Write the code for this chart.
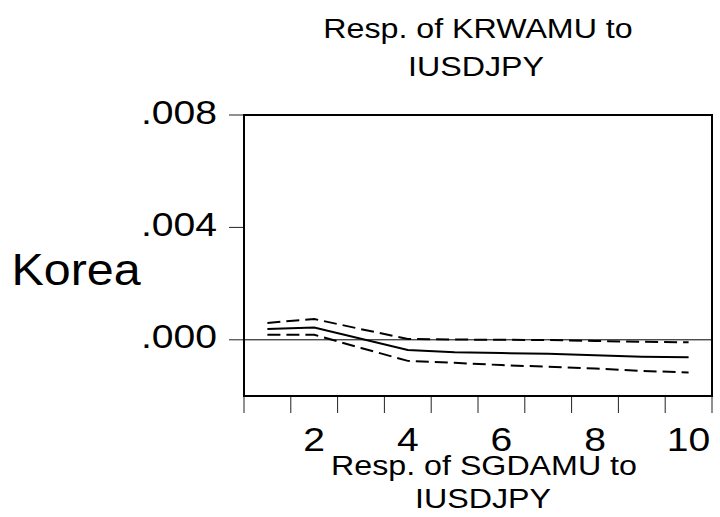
<!DOCTYPE html>
<html>
<head>
<meta charset="utf-8">
<script src="https://cdn.jsdelivr.net/npm/d3@7"></script>
<style>
  body { margin: 0; background: #fff; }
  text { font-family: "Liberation Sans", Arial, sans-serif; fill: #000; }
</style>
</head>
<body>
<script>
// impulse response, periods 1..10
const periods = [1, 2, 3, 4, 5, 6, 7, 8, 9, 10];
const response = [0.00038, 0.00044, 0.00004, -0.00036, -0.00044, -0.00047, -0.0005, -0.00055, -0.0006, -0.00062];
const upperBand = [0.0006, 0.00074, 0.00038, 0.00003, 0.00001, 0.0, -0.00001, -0.00004, -0.00007, -0.00009];
const lowerBand = [0.00018, 0.00018, -0.00029, -0.00075, -0.00082, -0.0009, -0.00096, -0.00102, -0.00111, -0.00116];

const yTicks = [0, 0.004, 0.008];
const xTickLabels = [2, 4, 6, 8, 10];
const topTitle = ["Resp. of KRWAMU to", "IUSDJPY"];
const bottomTitle = ["Resp. of SGDAMU to", "IUSDJPY"];
const rowLabel = "Korea";

const width = 720;
const height = 517;
const margin = { left: 244, right: 8, top: 115, bottom: 121 };
const sx = 1.15; // text in the original is slightly stretched horizontally

const svg = d3
  .select("body")
  .append("svg")
  .attr("width", width)
  .attr("height", height);

const xScale = d3
  .scaleBand()
  .domain(periods)
  .range([margin.left, width - margin.right]);

const yScale = d3
  .scaleLinear()
  .domain([-0.002, 0.008])
  .range([height - margin.bottom, margin.top]);

const cx = (p) => xScale(p) + xScale.bandwidth() / 2;

const addText = (str, x, y, size, anchor, stretch) => {
  svg
    .append("text")
    .text(str)
    .attr("transform", `translate(${x},${y}) scale(${stretch},1)`)
    .attr("font-size", size)
    .attr("text-anchor", anchor);
};

// titles (the bottom title overlaps the x labels in the original too)
addText(topTitle[0], 478, 37.5, 28, "middle", sx);
addText(topTitle[1], 476, 76, 28, "middle", sx);
addText(bottomTitle[0], 484, 475, 28, "middle", sx);
addText(bottomTitle[1], 483, 508, 28, "middle", sx);
addText(rowLabel, 76, 285, 44, "middle", 1.1);

// y ticks and labels
svg
  .selectAll(".ytick")
  .data(yTicks)
  .enter()
  .append("line")
  .attr("x1", margin.left - 15)
  .attr("x2", margin.left)
  .attr("y1", (d) => yScale(d))
  .attr("y2", (d) => yScale(d))
  .attr("stroke", "#222")
  .attr("stroke-width", 1);

yTicks.forEach((d) => {
  addText(d3.format(".3f")(d).replace(/^0/, ""), 217, yScale(d) + 8.5, 34, "end", sx);
});

// x ticks on band edges
const xEdges = periods.map((p) => xScale(p)).concat([width - margin.right]);
svg
  .selectAll(".xtick")
  .data(xEdges)
  .enter()
  .append("line")
  .attr("x1", (d) => d)
  .attr("x2", (d) => d)
  .attr("y1", height - margin.bottom + 1)
  .attr("y2", height - margin.bottom + 17)
  .attr("stroke", "#222")
  .attr("stroke-width", 1);

xTickLabels.forEach((d) => {
  addText(d, cx(d), 451, 34, "middle", sx);
});

// zero line
svg
  .append("line")
  .attr("x1", margin.left)
  .attr("x2", width - margin.right)
  .attr("y1", yScale(0))
  .attr("y2", yScale(0))
  .attr("stroke", "#000")
  .attr("stroke-width", 1);

const line = d3
  .line()
  .x((d, i) => cx(periods[i]))
  .y((d) => yScale(d));

[upperBand, lowerBand].forEach((band) => {
  svg
    .append("path")
    .attr("d", line(band))
    .attr("fill", "none")
    .attr("stroke", "#000")
    .attr("stroke-width", 2)
    .attr("stroke-dasharray", "13,6");
});

svg
  .append("path")
  .attr("d", line(response))
  .attr("fill", "none")
  .attr("stroke", "#000")
  .attr("stroke-width", 2);

// frame
svg
  .append("rect")
  .attr("x", margin.left)
  .attr("y", margin.top)
  .attr("width", width - margin.left - margin.right)
  .attr("height", height - margin.top - margin.bottom)
  .attr("fill", "none")
  .attr("stroke", "#000")
  .attr("stroke-width", 2);
</script>
</body>
</html>
